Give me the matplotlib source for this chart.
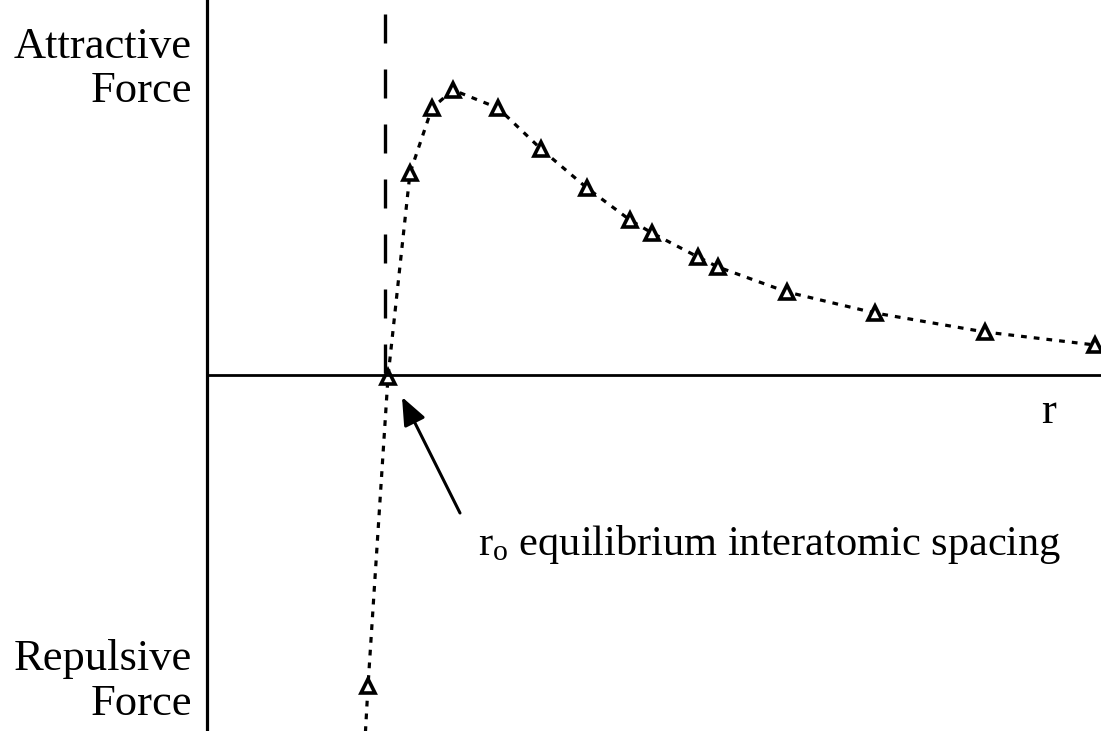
import matplotlib
matplotlib.use("Agg")
import matplotlib.pyplot as plt

plt.rcParams['font.family'] = ['Liberation Serif', 'DejaVu Serif']
plt.rcParams['mathtext.fontset'] = 'custom'
plt.rcParams['mathtext.rm'] = 'Liberation Serif'

# Interatomic separation r and net force F (attractive > 0, repulsive < 0)
r_values = [1.61, 1.81, 2.03, 2.25, 2.46, 2.91, 3.34, 3.80, 4.23, 4.45,
            4.91, 5.11, 5.80, 6.68, 7.78, 8.88]
force_values = [-3.11, -0.02, 2.02, 2.67, 2.85, 2.67, 2.26, 1.87, 1.55, 1.42,
                1.18, 1.08, 0.83, 0.62, 0.43, 0.30]

# The fitted curve continues past the closest measured point
curve_tail_r = 1.58
curve_tail_f = -3.65

guide_r = 1.78       # vertical reference line at r0
guide_top = 3.61

fig = plt.figure(figsize=(11.01, 7.31), dpi=100)
ax = fig.add_axes([0, 0, 1, 1])
ax.set_xlim(-2.07, 8.94)
ax.set_ylim(-3.56, 3.75)

# axes through the origin
for side in ('top', 'right'):
    ax.spines[side].set_visible(False)
ax.spines['left'].set_position(('data', 0))
ax.spines['bottom'].set_position(('data', 0))
ax.spines['left'].set_linewidth(2.3)
ax.spines['bottom'].set_linewidth(2.0)
ax.spines['bottom'].set_bounds(0, 8.94)
ax.set_xticks([])
ax.set_yticks([])

# dashed guide at r0
ax.plot([guide_r, guide_r], [guide_top, 0], color='black', lw=2.4,
        linestyle=(0, (8.7, 7.8)), dash_capstyle='butt')

# force curve
curve_r = [curve_tail_r] + r_values
curve_f = [curve_tail_f] + force_values
ax.plot(curve_r, curve_f, color='black', lw=2.3, linestyle=(0, (1.8, 2.2)),
        marker='^', markersize=9.5, markeredgewidth=2.6,
        markerfacecolor='white', markeredgecolor='black',
        markevery=list(range(1, len(curve_r))))

# labels
label_kw = dict(fontsize=32, ha='right', va='baseline', color='black')
ax.text(-0.15, 3.17, 'Attractive', **label_kw)
ax.text(-0.15, 2.73, 'Force', **label_kw)
ax.text(-0.15, -2.95, 'Repulsive', **label_kw)
ax.text(-0.15, -3.40, 'Force', **label_kw)

ax.text(8.42, -0.48, 'r', fontsize=32, ha='center', va='baseline')

ax.annotate('', xy=(1.95, -0.22), xytext=(2.53, -1.38),
            arrowprops=dict(arrowstyle='-|>,head_length=1.7,head_width=0.7',
                            color='black', lw=2.2, shrinkA=0, shrinkB=0))
ax.text(2.71, -1.80, r'$\mathregular{r_o}$ equilibrium interatomic spacing',
        fontsize=30.5, ha='left', va='baseline')

fig.savefig('out.png', dpi=100)
